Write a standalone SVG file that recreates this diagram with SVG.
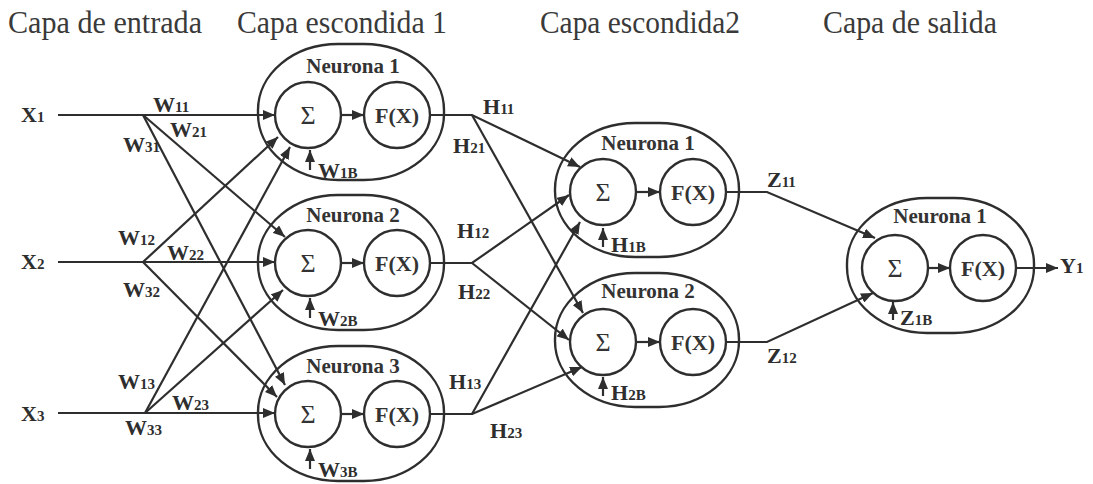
<svg xmlns="http://www.w3.org/2000/svg" width="1093" height="484" viewBox="0 0 1093 484">
  <style>
    .title { font-family: "Liberation Serif", "Times New Roman", serif; font-size: 32px; fill: #3a3a3a; }
    .lbl { font-family: "Liberation Serif", "Times New Roman", serif; font-size: 22px; font-weight: bold; fill: #2e2e2e; }
    .sub { font-size: 15px; }
    .name { font-family: "Liberation Serif", "Times New Roman", serif; font-size: 21px; font-weight: bold; fill: #333; text-anchor: middle; }
    .sig { font-family: "Liberation Serif", "Times New Roman", serif; font-size: 26px; fill: #333; text-anchor: middle; }
    .fx { font-family: "Liberation Serif", "Times New Roman", serif; font-size: 22px; font-weight: bold; fill: #333; text-anchor: middle; }
    .shell { fill: none; stroke: #2e2e2e; stroke-width: 2.4; }
    .unit { fill: #fff; stroke: #2e2e2e; stroke-width: 2.4; }
    .wire { fill: none; stroke: #2e2e2e; stroke-width: 2.2; }
    .arr { marker-end: url(#head); }
  </style>
  <defs>
    <marker id="head" markerUnits="userSpaceOnUse" markerWidth="12" markerHeight="10" refX="12" refY="5" orient="auto">
      <path d="M0,0 L12,5 L0,10 z" fill="#2e2e2e"/>
    </marker>
  </defs>

  <rect width="1093" height="484" fill="#fff"/>

  <!-- layer titles -->
  <g id="titles">
    <text class="title" x="8" y="33" textLength="194" lengthAdjust="spacingAndGlyphs">Capa de entrada</text>
    <text class="title" x="237" y="33" textLength="210" lengthAdjust="spacingAndGlyphs">Capa escondida 1</text>
    <text class="title" x="540" y="33" textLength="200" lengthAdjust="spacingAndGlyphs">Capa escondida2</text>
    <text class="title" x="823" y="33" textLength="174" lengthAdjust="spacingAndGlyphs">Capa de salida</text>
  </g>

  <!-- connectors -->
  <g id="connectors">
    <!-- inputs to hidden layer 1 -->
    <path class="wire arr" d="M58,115 H275"/>
    <path class="wire arr" d="M143,115 L285,237"/>
    <path class="wire arr" d="M143,115 L285,385"/>
    <path class="wire arr" d="M58,262 H275"/>
    <path class="wire arr" d="M143,262 L278,137"/>
    <path class="wire arr" d="M143,262 L277,397"/>
    <path class="wire arr" d="M58,413 H275"/>
    <path class="wire arr" d="M145,413 L290,147"/>
    <path class="wire arr" d="M145,413 L283,290"/>
    <!-- hidden layer 1 to hidden layer 2 -->
    <path class="wire arr" d="M430,115 H472 L580,167"/>
    <path class="wire arr" d="M472,115 L583,313"/>
    <path class="wire arr" d="M430,263 H472 L569,195"/>
    <path class="wire arr" d="M472,263 L569,340"/>
    <path class="wire arr" d="M430,414 H472 L580,222"/>
    <path class="wire arr" d="M472,414 L582,367"/>
    <!-- hidden layer 2 to output -->
    <path class="wire arr" d="M726,192 H767 L875,238"/>
    <path class="wire arr" d="M726,342 H767 L873,293"/>
    <path class="wire arr" d="M1016,268 H1058"/>
  </g>

  <!-- weight labels -->
  <g id="weights">
    <text class="lbl" x="21" y="122">X<tspan class="sub">1</tspan></text>
    <text class="lbl" x="21" y="269">X<tspan class="sub">2</tspan></text>
    <text class="lbl" x="21" y="421">X<tspan class="sub">3</tspan></text>
    <text class="lbl" x="153" y="112">W<tspan class="sub">11</tspan></text>
    <text class="lbl" x="170" y="137">W<tspan class="sub">21</tspan></text>
    <text class="lbl" x="123" y="152">W<tspan class="sub">31</tspan></text>
    <text class="lbl" x="118" y="245">W<tspan class="sub">12</tspan></text>
    <text class="lbl" x="167" y="260">W<tspan class="sub">22</tspan></text>
    <text class="lbl" x="123" y="297">W<tspan class="sub">32</tspan></text>
    <text class="lbl" x="118" y="389">W<tspan class="sub">13</tspan></text>
    <text class="lbl" x="172" y="410">W<tspan class="sub">23</tspan></text>
    <text class="lbl" x="125" y="435">W<tspan class="sub">33</tspan></text>
    <text class="lbl" x="483" y="114">H<tspan class="sub">11</tspan></text>
    <text class="lbl" x="453" y="153">H<tspan class="sub">21</tspan></text>
    <text class="lbl" x="457" y="238">H<tspan class="sub">12</tspan></text>
    <text class="lbl" x="458" y="299">H<tspan class="sub">22</tspan></text>
    <text class="lbl" x="449" y="389">H<tspan class="sub">13</tspan></text>
    <text class="lbl" x="490" y="438">H<tspan class="sub">23</tspan></text>
    <text class="lbl" x="767" y="187">Z<tspan class="sub">11</tspan></text>
    <text class="lbl" x="767" y="363">Z<tspan class="sub">12</tspan></text>
    <text class="lbl" x="1060" y="273">Y<tspan class="sub">1</tspan></text>
  </g>

  <!-- hidden layer 1 -->
  <g id="h1-n1">
    <rect class="shell" x="258" y="44" width="186" height="136" rx="80" ry="66"/>
    <text class="name" x="353" y="73">Neurona 1</text>
    <circle class="unit" cx="308" cy="115" r="33"/>
    <circle class="unit" cx="397" cy="115" r="33"/>
    <text class="sig" x="308" y="124">Σ</text>
    <text class="fx" x="397" y="123">F(X)</text>
    <path class="wire arr" d="M342,115 H364"/>
    <path class="wire arr" d="M310,170 V150"/>
    <text class="lbl" x="318" y="178">W<tspan class="sub">1B</tspan></text>
  </g>
  <g id="h1-n2">
    <rect class="shell" x="258" y="195" width="186" height="135" rx="80" ry="66"/>
    <text class="name" x="353" y="222">Neurona 2</text>
    <circle class="unit" cx="308" cy="263" r="33"/>
    <circle class="unit" cx="397" cy="263" r="33"/>
    <text class="sig" x="308" y="272">Σ</text>
    <text class="fx" x="397" y="271">F(X)</text>
    <path class="wire arr" d="M342,263 H364"/>
    <path class="wire arr" d="M310,318 V298"/>
    <text class="lbl" x="318" y="326">W<tspan class="sub">2B</tspan></text>
  </g>
  <g id="h1-n3">
    <rect class="shell" x="258" y="346" width="186" height="135" rx="80" ry="66"/>
    <text class="name" x="353" y="373">Neurona 3</text>
    <circle class="unit" cx="308" cy="414" r="33"/>
    <circle class="unit" cx="397" cy="414" r="33"/>
    <text class="sig" x="308" y="423">Σ</text>
    <text class="fx" x="397" y="422">F(X)</text>
    <path class="wire arr" d="M342,414 H364"/>
    <path class="wire arr" d="M310,469 V449"/>
    <text class="lbl" x="318" y="477">W<tspan class="sub">3B</tspan></text>
  </g>

  <!-- hidden layer 2 -->
  <g id="h2-n1">
    <rect class="shell" x="555" y="123" width="184" height="134" rx="80" ry="66"/>
    <text class="name" x="648" y="150">Neurona 1</text>
    <circle class="unit" cx="603" cy="192" r="33"/>
    <circle class="unit" cx="693" cy="192" r="33"/>
    <text class="sig" x="603" y="201">Σ</text>
    <text class="fx" x="693" y="200">F(X)</text>
    <path class="wire arr" d="M637,192 H660"/>
    <path class="wire arr" d="M603,247 V228"/>
    <text class="lbl" x="611" y="252">H<tspan class="sub">1B</tspan></text>
  </g>
  <g id="h2-n2">
    <rect class="shell" x="555" y="273" width="184" height="134" rx="80" ry="66"/>
    <text class="name" x="648" y="298">Neurona 2</text>
    <circle class="unit" cx="603" cy="342" r="33"/>
    <circle class="unit" cx="693" cy="342" r="33"/>
    <text class="sig" x="603" y="351">Σ</text>
    <text class="fx" x="693" y="350">F(X)</text>
    <path class="wire arr" d="M637,342 H660"/>
    <path class="wire arr" d="M603,396 V377"/>
    <text class="lbl" x="611" y="400">H<tspan class="sub">2B</tspan></text>
  </g>

  <!-- output layer -->
  <g id="out-n1">
    <rect class="shell" x="847" y="198" width="187" height="135" rx="80" ry="66"/>
    <text class="name" x="940" y="223">Neurona 1</text>
    <circle class="unit" cx="895" cy="268" r="33"/>
    <circle class="unit" cx="983" cy="268" r="33"/>
    <text class="sig" x="895" y="277">Σ</text>
    <text class="fx" x="983" y="276">F(X)</text>
    <path class="wire arr" d="M929,268 H950"/>
    <path class="wire arr" d="M893,320 V302"/>
    <text class="lbl" x="900" y="325">Z<tspan class="sub">1B</tspan></text>
  </g>
</svg>
